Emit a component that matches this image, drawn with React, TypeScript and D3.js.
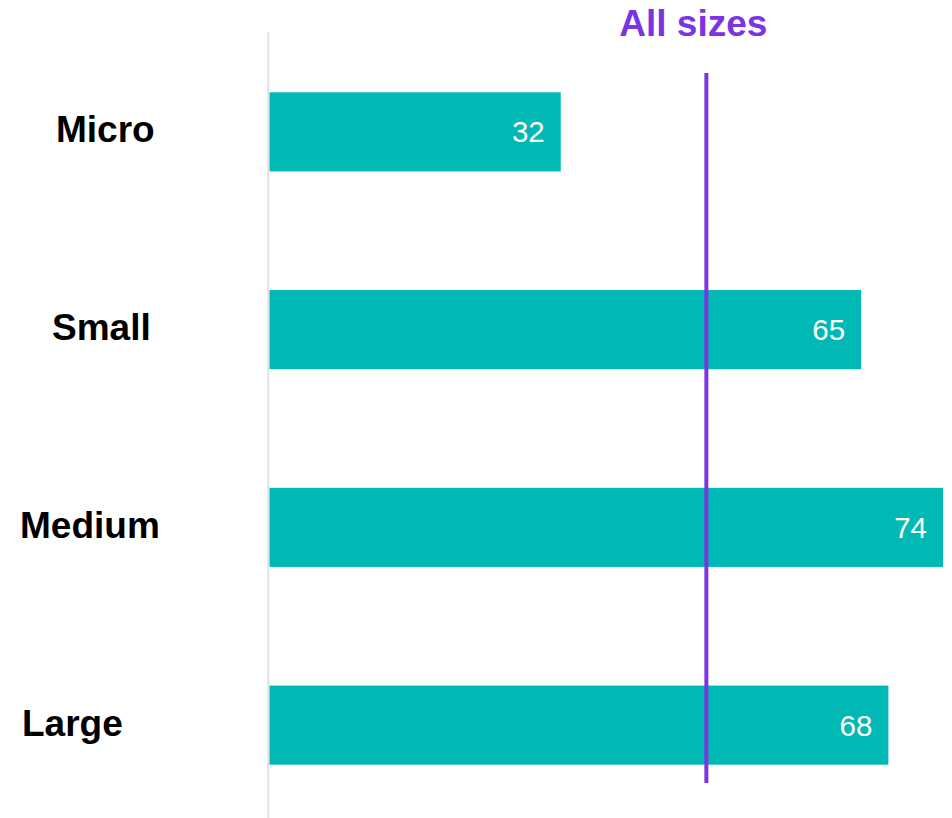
import React from "react";
import * as d3 from "d3";

const categories = ["Micro", "Small", "Medium", "Large"];
const values = [32, 65, 74, 68];
const referenceLabel = "All sizes";
const referenceValue = 48;

const W = 952;
const H = 818;
const LABEL_X: Record<string, number> = { Micro: 56, Small: 52, Medium: 20, Large: 22 };
const FONT = "'Liberation Sans', Arial, sans-serif";

export default function App() {
  const x = d3.scaleLinear().domain([0, 74]).range([269.5, 943]);
  const y = d3
    .scaleBand<string>()
    .domain(categories)
    .range([33, 824])
    .paddingInner(0.6)
    .paddingOuter(0.3);
  const bw = y.bandwidth();
  const rx = x(referenceValue);

  return (
    <svg
      width={W}
      height={H}
      style={{ position: "absolute", left: 0, top: 0, background: "#fff" }}
      fontFamily={FONT}
    >
      <line x1={268.3} x2={268.3} y1={32} y2={H} stroke="#e0e0e0" strokeWidth={2} />
      {categories.map((c, i) => (
        <g key={c}>
          <rect
            x={x(0)}
            y={y(c)!}
            width={x(values[i]) - x(0)}
            height={bw}
            fill="#00B8B4"
          />
          <text
            x={x(values[i]) - 16}
            y={y(c)! + bw / 2 + 10.5}
            textAnchor="end"
            fill="#fff"
            fontSize={29.5}
          >
            {values[i]}
          </text>
          <text
            x={LABEL_X[c]}
            y={y(c)! + bw / 2 + 10.5}
            fontSize={37}
            fontWeight="bold"
            fill="#000"
          >
            {c}
          </text>
        </g>
      ))}
      <line x1={rx} x2={rx} y1={73} y2={783} stroke="#7B35E0" strokeWidth={4} />
      <text
        x={rx - 13}
        y={36}
        textAnchor="middle"
        fill="#7B35E0"
        fontSize={37}
        fontWeight="bold"
      >
        {referenceLabel}
      </text>
    </svg>
  );
}
